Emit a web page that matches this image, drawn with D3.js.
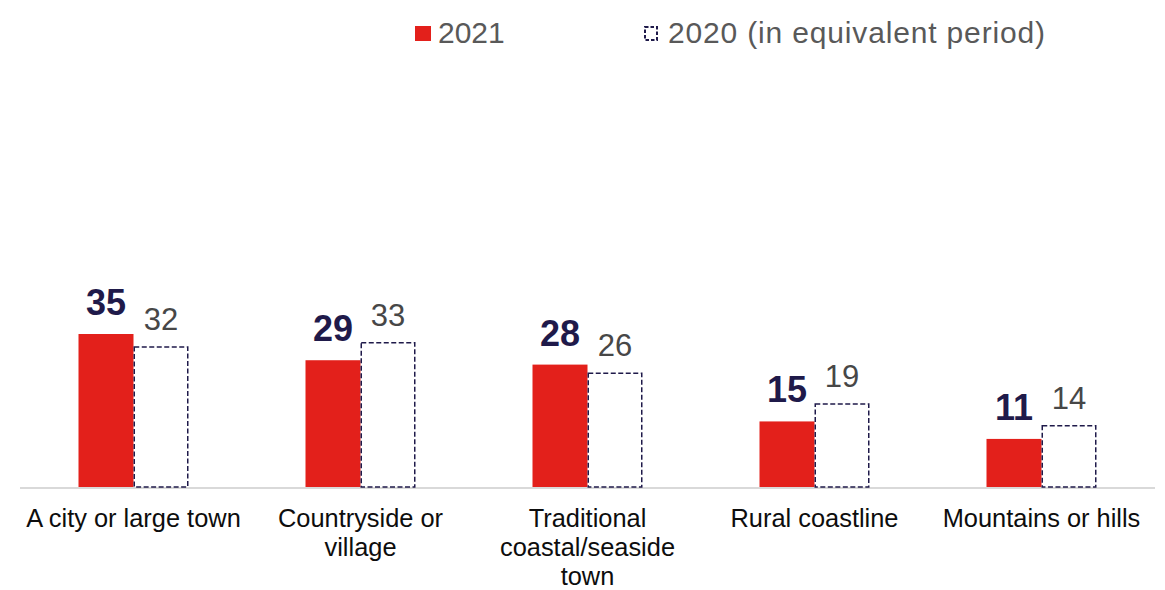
<!DOCTYPE html>
<html>
<head>
<meta charset="utf-8">
<script src="https://cdn.jsdelivr.net/npm/d3@7"></script>
<style>
  html, body { margin: 0; padding: 0; background: #ffffff; }
  svg { display: block; font-family: "Liberation Sans", Arial, Helvetica, sans-serif; }
</style>
</head>
<body>
<svg id="chart" width="1165" height="590"></svg>
<script>
// Holiday destination types, share of respondents (%)
const categories = [
  ["A city or large town"],
  ["Countryside or", "village"],
  ["Traditional", "coastal/seaside", "town"],
  ["Rural coastline"],
  ["Mountains or hills"]
];
const seriesNames = ["2021", "2020 (in equivalent period)"];
const values2021 = [35, 29, 28, 15, 11];
const values2020 = [32, 33, 26, 19, 14];

const svg = d3.select("#chart");

const catKeys = categories.map(c => c.join(" "));
const x0 = d3.scaleBand().domain(catKeys).range([20, 1155]).padding(0);
const y = d3.scaleLinear().domain([0, 35]).range([487, 334]);
const barW = 55;

const red = "#e3201b";
const navy = "#1f1a4a";

// baseline
svg.append("line")
  .attr("x1", x0.range()[0]).attr("x2", x0.range()[1])
  .attr("y1", y(0) + 1).attr("y2", y(0) + 1)
  .attr("stroke", "#d9d9d9").attr("stroke-width", 2);

const groups = svg.selectAll("g.cat")
  .data(catKeys.map((k, i) => ({ key: k, lines: categories[i], v21: values2021[i], v20: values2020[i] })))
  .join("g")
  .attr("class", "cat")
  .attr("transform", d => `translate(${x0(d.key) + x0.bandwidth() / 2},0)`);

// 2021 bars
groups.append("rect")
  .attr("x", -barW).attr("width", barW)
  .attr("y", d => y(d.v21)).attr("height", d => y(0) - y(d.v21))
  .attr("fill", red);

// 2020 bars (dashed outline)
groups.append("rect")
  .attr("x", 0.75).attr("width", barW - 1.5)
  .attr("y", d => y(d.v20)).attr("height", d => y(0) - y(d.v20))
  .attr("fill", "#ffffff")
  .attr("stroke", navy).attr("stroke-width", 1.5)
  .attr("stroke-dasharray", "5,2.5");

// value labels
groups.append("text")
  .attr("x", -barW / 2).attr("y", d => y(d.v21) - 19)
  .attr("text-anchor", "middle")
  .attr("font-size", 36).attr("font-weight", "bold")
  .attr("fill", navy)
  .text(d => d.v21);

groups.append("text")
  .attr("x", barW / 2).attr("y", d => y(d.v20) - 17)
  .attr("text-anchor", "middle")
  .attr("font-size", 31)
  .attr("fill", "#474747")
  .text(d => d.v20);

// category labels
groups.append("text")
  .attr("text-anchor", "middle")
  .attr("font-size", 25.4)
  .attr("fill", "#0d0d0d")
  .selectAll("tspan")
  .data(d => d.lines)
  .join("tspan")
  .attr("x", 0)
  .attr("y", (d, i) => 527 + i * 29)
  .text(d => d);

// legend
const legend = svg.append("g");
legend.append("rect")
  .attr("x", 415).attr("y", 26).attr("width", 16).attr("height", 15)
  .attr("fill", red);
legend.append("text")
  .attr("x", 438).attr("y", 43)
  .attr("font-size", 30).attr("fill", "#595959")
  .text(seriesNames[0]);
legend.append("rect")
  .attr("x", 645).attr("y", 27).attr("width", 12).attr("height", 13)
  .attr("fill", "#ffffff").attr("stroke", navy)
  .attr("stroke-width", 2).attr("stroke-dasharray", "3.5,2");
legend.append("text")
  .attr("x", 668).attr("y", 43)
  .attr("font-size", 30).attr("fill", "#595959")
  .attr("textLength", 377).attr("lengthAdjust", "spacing")
  .text(seriesNames[1]);
</script>
</body>
</html>
